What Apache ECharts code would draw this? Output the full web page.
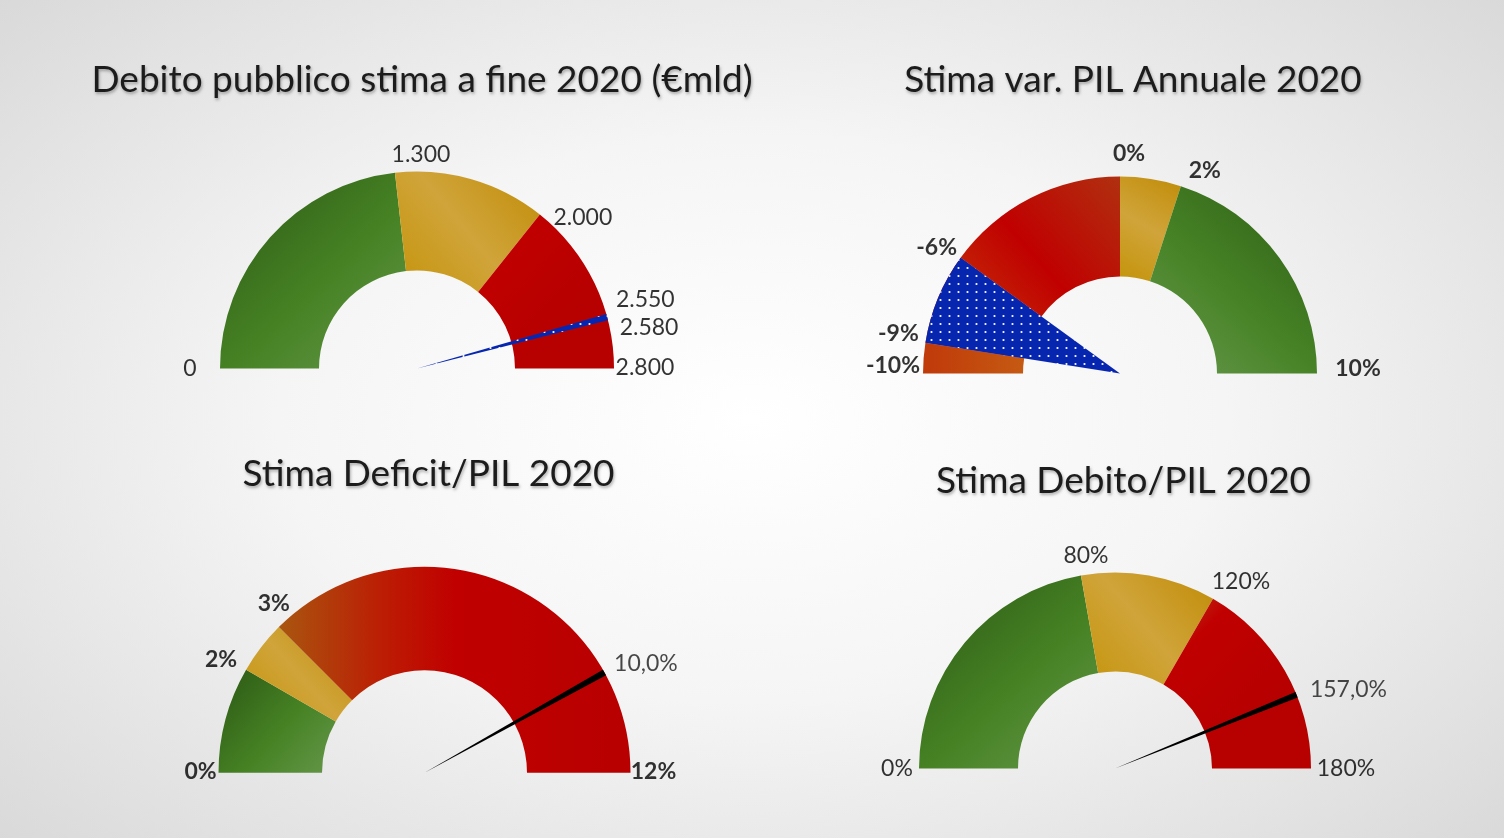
<!DOCTYPE html>
<html><head><meta charset="utf-8">
<script src="https://cdn.jsdelivr.net/npm/echarts@6/dist/echarts.min.js"></script>
<style>
html,body{margin:0;padding:0;width:1504px;height:838px;overflow:hidden;
background: radial-gradient(ellipse 70% 75% at 50% 50%, #ffffff 0%, #f5f5f5 45%, #d8d8d8 100%);}
#c{width:1504px;height:838px;}
</style></head><body><div id="c"></div>
<script>
// ---------------- data ----------------
const titles = ['Debito pubblico stima a fine 2020 (€mld)', 'Stima var. PIL Annuale 2020', 'Stima Deficit/PIL 2020', 'Stima Debito/PIL 2020'];

const debtBands = [0, 1300, 2000, 2800];
const debtRange = [2550, 2580];
const debtLabels = [0, 1300, 2000, 2550, 2580, 2800];

const gdpBands = [-10, -9, -6, 0, 2, 10];
const gdpRange = [-9, -6];
const gdpLabels = [-10, -9, -6, 0, 2, 10];

const deficitBands = [0, 2, 3, 12];
const deficitValue = 10.0;
const deficitLabels = [0, 2, 3, 12];

const ratioBands = [0, 80, 120, 180];
const ratioValue = 157.0;
const ratioLabels = [0, 80, 120, 180];

// ---------------- styles ----------------
const FONT = 'Lato, "Open Sans", sans-serif';
const LG = (x0, y0, x1, y1, stops) => new echarts.graphic.LinearGradient(x0, y0, x1, y1, stops.map(s => ({offset: s[0], color: s[1]})));
const green = () => LG(0, 0, 1, 1, [[0, '#2b5714'], [0.55, '#468224'], [1, '#65974a']]);
const greenR = () => LG(1, 0, 0, 1, [[0, '#2b5c14'], [0.55, '#478326'], [1, '#69994f']]);
const gold = () => LG(0, 1, 1, 0, [[0, '#c4940a'], [0.5, '#d0a43a'], [1, '#c08c06']]);
const red = () => LG(0, 0, 0.7, 0.6, [[0, '#b8401a'], [0.35, '#c00000'], [1, '#b70000']]);
const redWide = () => LG(0, 0, 1, 0, [[0, '#a9560f'], [0.3, '#bc1c04'], [0.5, '#c00000'], [1, '#b80000']]);
const redGdp = () => LG(0, 1, 1, 0, [[0, '#c4300a'], [0.45, '#c00000'], [1, '#b03010']]);
const orangeGdp = () => LG(0, 0, 1, 0, [[0, '#c0390a'], [1, '#c55a12']]);

function dotPattern() {
  const c = document.createElement('canvas');
  c.width = 9; c.height = 8;
  const g = c.getContext('2d');
  g.fillStyle = '#0726b0'; g.fillRect(0, 0, 9, 8);
  g.fillStyle = '#ffffff'; g.beginPath(); g.arc(4.5, 4, 1.1, 0, Math.PI * 2); g.fill();
  return {image: c, repeat: 'repeat'};
}

const NEEDLE_DEG = 1.8;

const gauges = [
  {cx: 417, cy: 368.5, r0: 98, r1: 197, tx: 417, ty: 57,
   bands: debtBands, colors: [green(), gold(), red()],
   range: debtRange, rangeColor: dotPattern(),
   labels: debtLabels, fmt: v => v === 0 ? '0' : (v / 1000).toFixed(3),
   bold: false,
   offsets: [[-30, 0], [26, -18], [43, 3], [39, -14], [41, 7], [31, -1]]},
  {cx: 1120, cy: 373.5, r0: 97, r1: 197, tx: 1128, ty: 57,
   bands: gdpBands, colors: [orangeGdp(), redGdp(), redGdp(), gold(), greenR()],
   range: gdpRange, rangeColor: dotPattern(),
   labels: gdpLabels, fmt: v => v + '%',
   bold: true,
   offsets: [[-30, -8], [-27, -9], [-24, -10], [9, -23], [24, -16], [41, -5]]},
  {cx: 424.5, cy: 772.7, r0: 102.5, r1: 206, tx: 423.5, ty: 451,
   bands: deficitBands, colors: [green(), gold(), redWide()],
   needle: deficitValue, needleFmt: v => v.toFixed(1).replace('.', ',') + '%', needleOffset: [43, -6],
   labels: deficitLabels, fmt: v => v + '%',
   bold: true,
   offsets: [[-18, -1], [-25, -10], [-5, -23], [23, -1]]},
  {cx: 1115, cy: 768.5, r0: 97, r1: 196, tx: 1118.5, ty: 458,
   bands: ratioBands, colors: [green(), gold(), red()],
   needle: ratioValue, needleFmt: v => v.toFixed(1).replace('.', ',') + '%', needleOffset: [53, -2],
   labels: ratioLabels, fmt: v => v + '%',
   bold: false,
   offsets: [[-22, 0], [5, -20], [28, -17], [35, 0]]}
];

const TRANSP = 'rgba(0,0,0,0)';
const series = [], polar = [], angleAxis = [], radiusAxis = [];

gauges.forEach((g, gi) => {
  const lo = g.bands[0], hi = g.bands[g.bands.length - 1], span = hi - lo;
  // ring
  const ringData = [];
  for (let i = 0; i < g.bands.length - 1; i++) {
    ringData.push({value: g.bands[i + 1] - g.bands[i], itemStyle: {color: g.colors[i]}});
  }
  ringData.push({value: span, itemStyle: {color: TRANSP}});
  series.push({type: 'pie', center: [g.cx, g.cy], radius: [g.r0, g.r1], startAngle: 180, clockwise: true,
    silent: true, animation: false, label: {show: false}, labelLine: {show: false}, z: 2, data: ringData});
  // wedge (range) or needle
  let from, to, col;
  if (g.range) { from = g.range[0]; to = g.range[1]; col = g.rangeColor; }
  else { from = g.needle; to = g.needle + NEEDLE_DEG / 180 * span; col = '#000000'; }
  series.push({type: 'pie', center: [g.cx, g.cy], radius: [0, g.r1], startAngle: 180, clockwise: true,
    silent: true, animation: false, label: {show: false}, labelLine: {show: false}, z: 3,
    data: [{value: from - lo, itemStyle: {color: TRANSP}},
           {value: to - from, itemStyle: {color: col}},
           {value: (hi - to) + span, itemStyle: {color: TRANSP}}]});
  // polar system for labels
  polar.push({center: [g.cx, g.cy], radius: g.r1});
  angleAxis.push({polarIndex: gi, type: 'value', min: lo, max: lo + 2 * span, startAngle: 180, clockwise: true,
    axisLine: {show: false}, axisTick: {show: false}, axisLabel: {show: false}, splitLine: {show: false}});
  radiusAxis.push({polarIndex: gi, type: 'value', min: 0, max: 1,
    axisLine: {show: false}, axisTick: {show: false}, axisLabel: {show: false}, splitLine: {show: false}});
  const pts = g.labels.map((v, i) => ({value: [1, v], label: {offset: g.offsets[i], formatter: g.fmt(v)}}));
  if (g.needle !== undefined) {
    pts.push({value: [1, g.needle], label: {offset: g.needleOffset, formatter: g.needleFmt(g.needle), fontWeight: 'normal', color: '#1a1a1a'}});
  }
  series.push({type: 'scatter', coordinateSystem: 'polar', polarIndex: gi, symbolSize: 0.1, silent: true, animation: false,
    itemStyle: {color: TRANSP}, z: 5,
    label: {show: true, position: 'inside', align: 'center', verticalAlign: 'middle',
      fontFamily: FONT, fontSize: 23, fontWeight: g.bold ? 'bold' : 'normal', color: '#000'},
    data: pts});
});

const chart = echarts.init(document.getElementById('c'), null, {renderer: 'canvas'});
chart.setOption({
  backgroundColor: 'transparent',
  animation: false,
  title: gauges.map((g, i) => ({text: titles[i], left: g.tx, top: g.ty, textAlign: 'center',
    textStyle: {fontFamily: FONT, fontSize: 37, fontWeight: 'normal', color: '#1c1c1c',
      textShadowColor: 'rgba(0,0,0,0.3)', textShadowBlur: 3, textShadowOffsetX: 1, textShadowOffsetY: 2}})),
  polar, angleAxis, radiusAxis, series
});
</script></body></html>
